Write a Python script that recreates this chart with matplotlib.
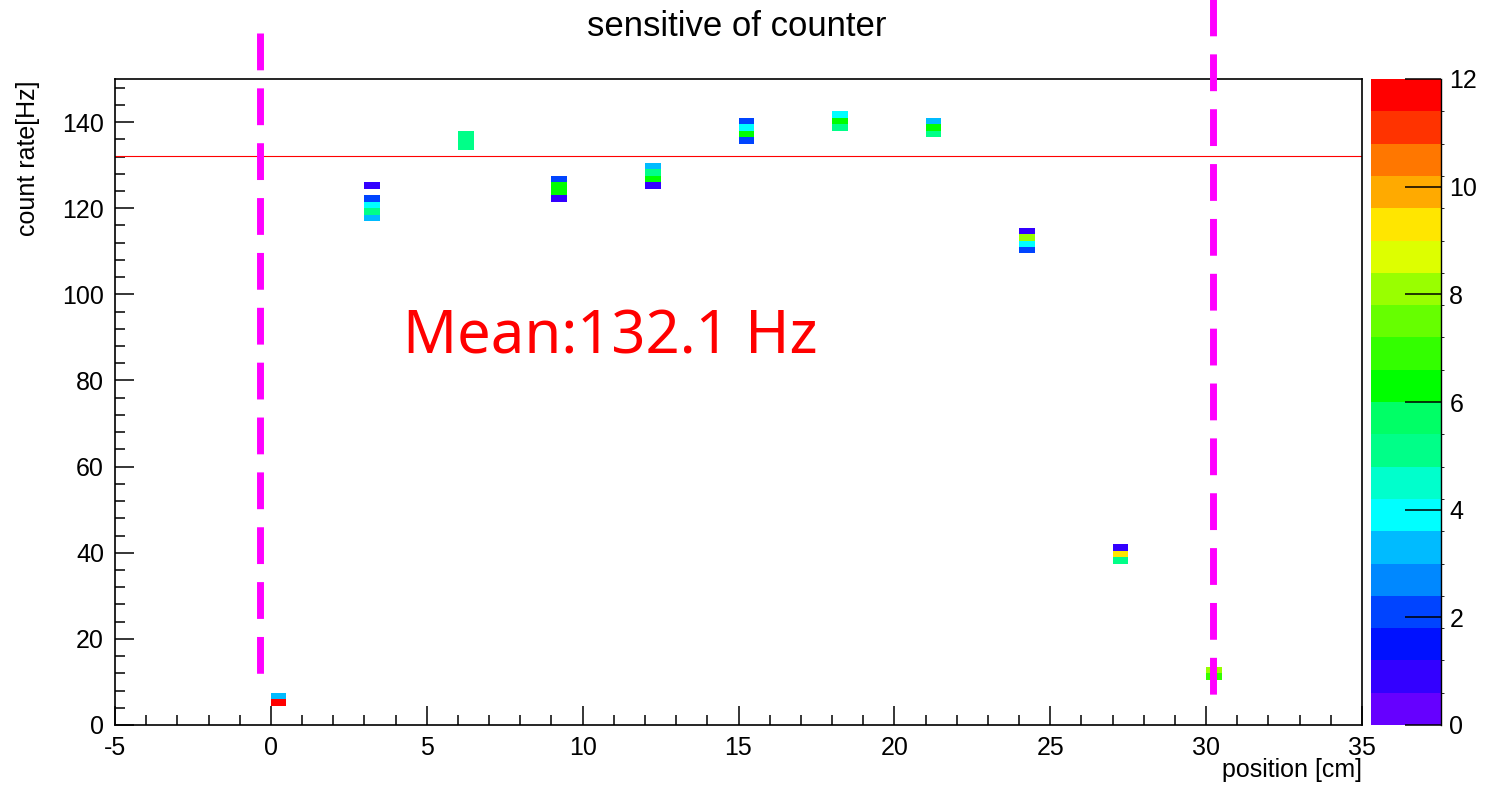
import matplotlib
matplotlib.use("Agg")
import matplotlib.pyplot as plt
import numpy as np
from matplotlib.colors import ListedColormap, BoundaryNorm

# measured cells: position [cm], count rate [Hz] (bin centre), number of entries
POSITION = [0, 0,
            3, 3, 3, 3, 3,
            6, 6, 6,
            9, 9, 9, 9,
            12, 12, 12, 12,
            15, 15, 15, 15,
            18, 18, 18,
            21, 21, 21,
            24, 24, 24, 24,
            27, 27, 27,
            30, 30]
RATE = [6.75, 5.25,
        125.25, 122.25, 120.75, 119.25, 117.75,
        137.25, 135.75, 134.25,
        126.75, 125.25, 123.75, 122.25,
        129.75, 128.25, 126.75, 125.25,
        140.25, 138.75, 137.25, 135.75,
        141.75, 140.25, 138.75,
        140.25, 138.75, 137.25,
        114.75, 113.25, 111.75, 110.25,
        41.25, 39.75, 38.25,
        12.75, 11.25]
ENTRIES = [3, 12,
           1, 2, 4, 5, 3,
           5, 5, 5,
           2, 6, 6, 1,
           3, 5, 6, 1,
           2, 4, 6, 2,
           4, 6, 5,
           3, 6, 5,
           1, 8, 4, 2,
           1, 9, 5,
           8, 7]

MEAN_RATE = 132.1
EDGE_LINES = [-0.35, 30.22]

# palette (20 levels, 0..12)
PALETTE = ["#6600ff", "#3300ff", "#0011ff", "#0044ff", "#0088ff",
           "#00bbff", "#00ffff", "#00ffcc", "#00ff88", "#00ff66",
           "#00ff00", "#33ff00", "#66ff00", "#99ff00", "#ddff00",
           "#ffe600", "#ffaa00", "#ff7700", "#ff3300", "#ff0000"]

W, H = 1486, 785
plt.rcParams["font.family"] = ["Liberation Sans", "DejaVu Sans"]
plt.rcParams["axes.unicode_minus"] = False
fig = plt.figure(figsize=(W / 100, H / 100), dpi=100)


def px_box(x0, y0, x1, y1):
    return [x0 / W, 1 - y1 / H, (x1 - x0) / W, (y1 - y0) / H]


ax = fig.add_axes(px_box(115, 79, 1362, 725))
cax = fig.add_axes(px_box(1371, 79, 1441, 725))

xedges = np.arange(-5, 35.001, 0.5)
yedges = np.linspace(0, 150, 101)
hist, _, _ = np.histogram2d(np.array(POSITION) + 0.25, RATE,
                            bins=[xedges, yedges], weights=ENTRIES)
hist = np.ma.masked_equal(hist, 0)

cmap = ListedColormap(PALETTE)
cmap.set_over(PALETTE[-1])
norm = BoundaryNorm(np.linspace(0, 12, 21), cmap.N)
mesh = ax.pcolormesh(xedges, yedges, hist.T, cmap=cmap, norm=norm,
                     antialiased=False, linewidth=0)

ax.axhline(MEAN_RATE, color="red", lw=0.8)

ax.set_xlim(-5, 35)
ax.set_ylim(0, 150)
ax.set_xticks(np.arange(-5, 36, 5))
ax.set_xticks(np.arange(-5, 36, 1), minor=True)
ax.set_yticks(np.arange(0, 141, 20))
ax.set_yticks(np.arange(0, 151, 4), minor=True)
ax.tick_params(which="both", direction="in", top=False, right=False,
               labelsize=18, width=1.1, pad=8)
ax.tick_params(which="major", length=14)
ax.tick_params(which="minor", length=7)
for s in ax.spines.values():
    s.set_linewidth(1.2)

# dashed magenta markers, reaching above the frame
ax.plot([EDGE_LINES[0]] * 2, [160.6, 9.0], color="#ff00ff", lw=5,
        dashes=(5.3, 2.6), clip_on=False, zorder=5)
ax.plot([EDGE_LINES[1]] * 2, [168.5, 5.8], color="#ff00ff", lw=5,
        dashes=(5.3, 2.6), clip_on=False, zorder=5)

ax.text(4.24, 90, "Mean:132.1 Hz", color="red", fontsize=43, va="center",
        family=["Noto Sans", "DejaVu Sans"])

cb = fig.colorbar(mesh, cax=cax, extend="neither")
cb.set_ticks(np.arange(0, 13, 2))
cb.outline.set_visible(False)
cax.tick_params(direction="in", length=26, width=1.1, labelsize=18, pad=6,
                right=True, left=False)
cax.plot([1, 1], [0, 1], transform=cax.transAxes, color="black", lw=1,
         clip_on=False)

fig.text(737 / W, 1 - 26 / H, "sensitive of counter", ha="center",
         va="center", fontsize=25)
fig.text(28 / W, 1 - 80 / H, "count rate[Hz]", ha="center", va="top",
         rotation=90, fontsize=18)
fig.text(1362 / W, 1 - 770 / H, "position [cm]", ha="right", va="center",
         fontsize=18)

fig.savefig("out.png", dpi=100)
